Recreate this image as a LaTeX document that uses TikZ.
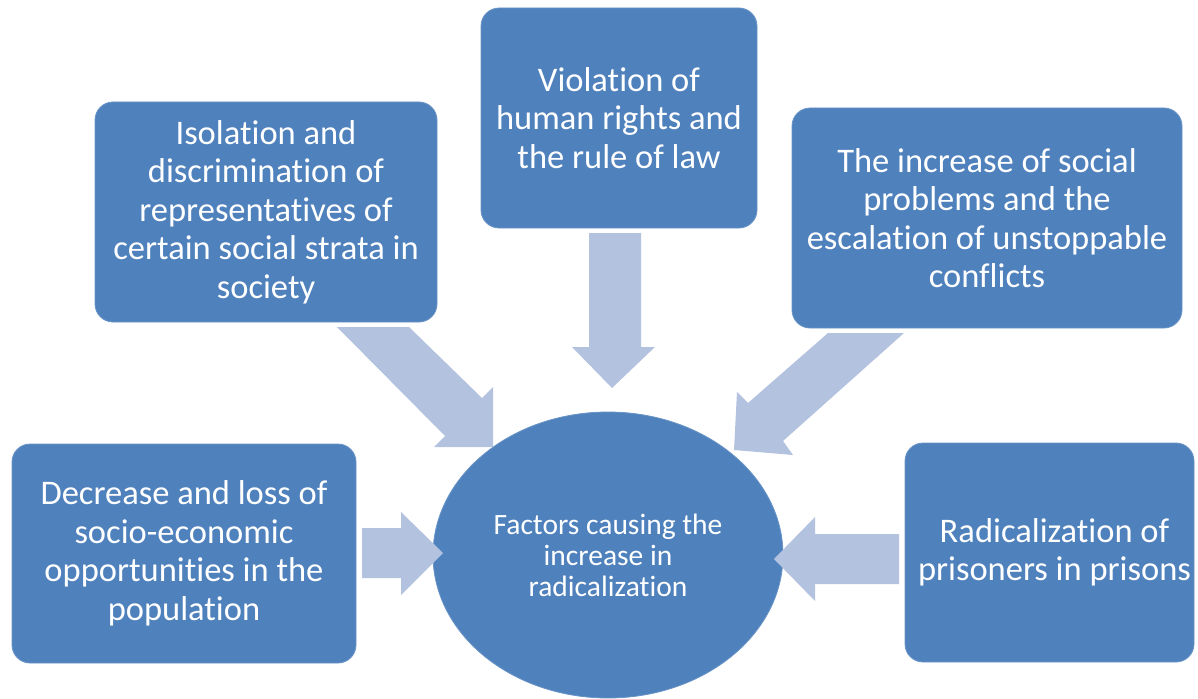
\documentclass[tikz,border=0pt]{standalone}
\usepackage{fontspec}
\setmainfont{Carlito}[Ligatures=NoCommon]
\usetikzlibrary{shapes.geometric}
\definecolor{boxblue}{HTML}{4F81BD}
\definecolor{arrowblue}{HTML}{B3C2DE}
\begin{document}
\begin{tikzpicture}[x=1pt,y=-1pt,
  factortext/.style={text=white, align=center, inner sep=0pt, font=\fontsize{34.5}{38.5}\selectfont},
  factor/.style={rectangle, rounded corners=18pt, fill=boxblue, draw=boxblue!85!white, line width=0.8pt,
    factortext},
  center/.style={ellipse, fill=boxblue, draw=boxblue!85!white, line width=0.8pt, text=white, align=center,
    inner sep=0pt, font=\fontsize{29.5}{31}\selectfont},
  blockarrow/.style={fill=arrowblue, draw=none}]
\useasboundingbox (0,0) rectangle (1198,698);
\node[factor, minimum width=342pt, minimum height=220pt] (iso) at (266,212)
  {Isolation and\\discrimination of\\representatives of\\certain social strata in\\society};
\node[factor, minimum width=276pt, minimum height=220pt] (vio) at (619,118)
  {Violation of\\human rights and\\the rule of law};
\node[factor, minimum width=390pt, minimum height=220pt] (inc) at (987,218)
  {The increase of social\\problems and the\\escalation of unstoppable\\conflicts};
\node[factor, minimum width=344pt, minimum height=219pt] (dec) at (184,553.5)
  {Decrease and loss of\\socio-economic\\opportunities in the\\population};
\node[factor, minimum width=289pt, minimum height=219pt,
  label={[factortext, xshift=5pt]center:{Radicalization of\\prisoners in prisons}}] (rad) at (1049.5,552.5) {};
\node[center, minimum width=350pt, minimum height=286pt] (fac) at (608,555)
  {Factors causing the\\increase in\\radicalization};
% block arrows
\fill[blockarrow] (337,327) -- (409,327) -- (482,398) -- (493,387) -- (493,447) -- (434,447) -- (445,436) -- cycle;
\fill[blockarrow] (589,233) -- (641,233) -- (641,347) -- (655,347) -- (612,388) -- (572,347) -- (589,347) -- cycle;
\fill[blockarrow] (828,333) -- (904,333) -- (783,441) -- (793,455) -- (734,450) -- (737,392) -- (748,403) -- cycle;
\fill[blockarrow] (362,528) -- (401,528) -- (401,512) -- (443,553) -- (401,595) -- (401,578) -- (362,578) -- cycle;
\fill[blockarrow] (899,534) -- (815,534) -- (815,517) -- (774,559) -- (815,601) -- (815,584) -- (899,584) -- cycle;
\end{tikzpicture}
\end{document}
